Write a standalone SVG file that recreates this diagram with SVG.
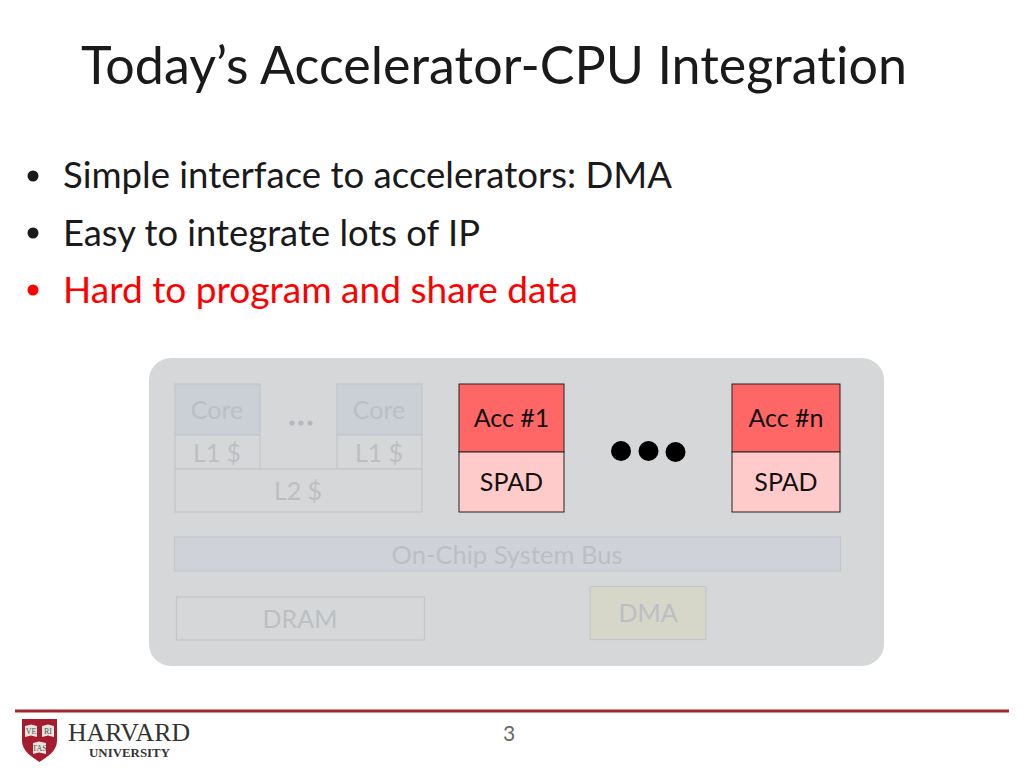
<svg xmlns="http://www.w3.org/2000/svg" width="1024" height="768" viewBox="0 0 1024 768">
<style>
text{font-family:"Lato","Noto Sans",sans-serif;font-variant-ligatures:none}
.b{font-size:36px;fill:#1a1a1a}
.c{text-anchor:middle;font-size:25px;fill:#bcbfc2}
.k{text-anchor:middle;font-size:25px;fill:#111}
.g{fill:#d5d7d9;stroke:#c3c6c9;stroke-width:1.2}
.a{fill:#ff6666;stroke:#222;stroke-width:1}
.s{fill:#ffcaca;stroke:#222;stroke-width:1}
.h{font-family:"Liberation Serif",serif;fill:#333}
</style>
<rect width="1024" height="768" fill="#fff"/>
<text id="title" x="81" y="84" font-size="53" fill="#1a1a1a" textLength="826" lengthAdjust="spacingAndGlyphs">Today’s Accelerator-CPU Integration</text>
<g id="bullets">
<circle cx="33" cy="176" r="5.500" fill="#1a1a1a"/><text class="b" x="63" y="188" textLength="609" lengthAdjust="spacingAndGlyphs">Simple interface to accelerators: DMA</text>
<circle cx="33" cy="233" r="5.500" fill="#1a1a1a"/><text class="b" x="63" y="246" textLength="417" lengthAdjust="spacingAndGlyphs">Easy to integrate lots of IP</text>
<circle cx="33" cy="290" r="5.500" fill="#ff0000"/><text class="b" x="63" y="303" style="fill:#ff0000" textLength="515" lengthAdjust="spacingAndGlyphs">Hard to program and share data</text>
</g>
<rect id="panel" x="149" y="358" width="735" height="308" rx="22" fill="#d5d7d9"/>
<g id="core1"><rect class="g" x="175" y="384" width="85" height="51" style="fill:#cad0d5"/><text class="c" x="217" y="419">Core</text></g>
<g id="l1a"><rect class="g" x="175" y="435" width="85" height="34"/><text class="c" x="217" y="462">L1 $</text></g>
<g id="core2"><rect class="g" x="337" y="384" width="85" height="51" style="fill:#cad0d5"/><text class="c" x="379" y="419">Core</text></g>
<g id="l1b"><rect class="g" x="337" y="435" width="85" height="34"/><text class="c" x="379" y="462">L1 $</text></g>
<g id="l2"><rect class="g" x="175" y="469" width="247" height="43"/><text class="c" x="298" y="500">L2 $</text></g>
<g id="dots-small" fill="#b5b9bd"><circle cx="292" cy="423" r="2.600"/><circle cx="301" cy="423" r="2.600"/><circle cx="310" cy="423" r="2.600"/></g>
<g id="bus"><rect class="g" x="174.500" y="537" width="666" height="34" style="fill:#d0d2da"/><text class="c" x="507" y="564" textLength="231" lengthAdjust="spacingAndGlyphs">On-Chip System Bus</text></g>
<g id="dram"><rect class="g" x="176.500" y="597" width="248" height="43"/><text class="c" x="300" y="628">DRAM</text></g>
<g id="dma"><rect class="g" x="590" y="586.500" width="116" height="53" style="fill:#d6d6c9"/><text class="c" x="648" y="622">DMA</text></g>
<g id="acc1"><rect class="a" x="459" y="384" width="105" height="68"/><text class="k" x="511.500" y="427">Acc #1</text></g>
<g id="spad1"><rect class="s" x="459" y="452" width="105" height="60"/><text class="k" x="511.500" y="491">SPAD</text></g>
<g id="accn"><rect class="a" x="732" y="384" width="108" height="68"/><text class="k" x="786" y="427">Acc #n</text></g>
<g id="spadn"><rect class="s" x="732" y="452" width="108" height="60"/><text class="k" x="786" y="491">SPAD</text></g>
<g id="dots-big" fill="#000"><circle cx="621" cy="451" r="10"/><circle cx="648.500" cy="451" r="10"/><circle cx="675.500" cy="452" r="10"/></g>
<rect id="rule" x="15" y="709.500" width="994" height="3" fill="#a3252e"/>
<text id="page" x="509" y="741" font-size="21" text-anchor="middle" fill="#666">3</text>
<g id="logo">
<path d="M22 719H57V741C57 751 47 757 39.500 762C32 757 22 751 22 741Z" fill="#a51c30"/>
<path d="M25 726L31 724.500L37 726V737L31 735.500L25 737ZM42 726L48 724.500L54 726V737L48 735.500L42 737ZM33 743L39 741.500L46 743V754L39 752.500L33 754Z" fill="#e8e4dc"/>
<text x="31" y="734" font-size="8" text-anchor="middle" fill="#555" style="font-family:'Liberation Serif',serif">VE</text>
<text x="48" y="734" font-size="8" text-anchor="middle" fill="#555" style="font-family:'Liberation Serif',serif">RI</text>
<text x="39.500" y="751" font-size="8" text-anchor="middle" fill="#555" style="font-family:'Liberation Serif',serif">TAS</text>
<text class="h" x="68" y="741" font-size="26" textLength="122" lengthAdjust="spacingAndGlyphs">HARVARD</text>
<text class="h" x="89" y="757" font-size="13.500" font-weight="bold" textLength="81" lengthAdjust="spacingAndGlyphs">UNIVERSITY</text>
</g>
</svg>
